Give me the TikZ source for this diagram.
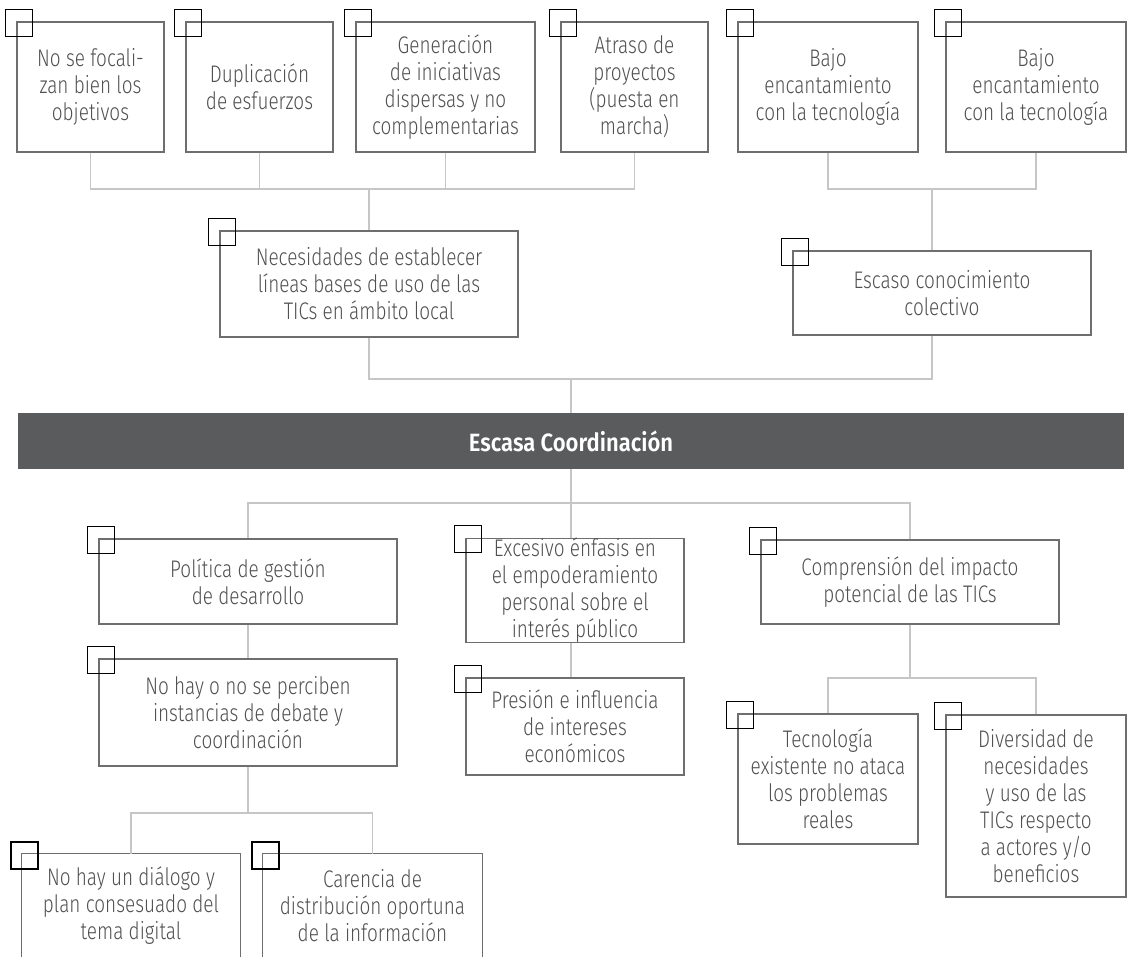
\documentclass[tikz,border=0pt]{standalone}
\usepackage{fontspec}
\setmainfont{Fira Sans Light}[FakeStretch=0.79,BoldFont={Fira Sans SemiBold},BoldFeatures={FakeStretch=0.88}]
\usetikzlibrary{positioning,calc}
\definecolor{boxline}{HTML}{6E6E6E}
\definecolor{boxtext}{HTML}{505050}
\definecolor{linkgray}{HTML}{C6C6C6}
\definecolor{bargray}{HTML}{5A5B5D}
\tikzset
{
    causenode/.style = {rectangle, draw=boxline, line width=1.2pt, text=boxtext, align=center, inner sep=0pt, font=\fontsize{24}{27}\selectfont},
    opennode/.style  = {rectangle, text=boxtext, align=center, inner sep=0pt, font=\fontsize{24}{27}\selectfont},
    boxsize/.style 2 args = {minimum width=#1pt, minimum height=#2pt},
    corebar/.style   = {rectangle, fill=bargray, text=white, inner sep=0pt, font=\bfseries\fontsize{25}{28}\selectfont, minimum width=1106pt, minimum height=56pt},
    tickbox/.style   = {draw=black, line width=1.5pt},
    openside/.style  = {draw=boxline, line width=1.2pt},
    link/.style      = {draw=linkgray, line width=1.5pt}
}

\begin{document}
\begin{tikzpicture}[x=1pt,y=-1pt]
\useasboundingbox (0,0) rectangle (1128,957);
\clip (0,0) rectangle (1128,957);

% effects
\node[causenode,boxsize={147}{130}] (nofocal) at (90.5,87) {No se focali-\\zan bien los\\objetivos};
\node[causenode,boxsize={147}{130}] (duplica) at (259.5,87) {Duplicación\\de esfuerzos};
\node[causenode,boxsize={179}{130}] (genera) at (445.5,87) {Generación\\de iniciativas\\dispersas y no\\complementarias};
\node[causenode,boxsize={147}{130}] (atraso) at (634.5,87) {Atraso de\\proyectos\\(puesta en\\marcha)};
\node[causenode,boxsize={180}{130}] (bajoa) at (828,87) {Bajo\\encantamiento\\con la tecnología};
\node[causenode,boxsize={180}{130}] (bajob) at (1036,87) {Bajo\\encantamiento\\con la tecnología};
\node[causenode,boxsize={298}{106}] (lineas) at (369,284) {Necesidades de establecer\\líneas bases de uso de las\\TICs en ámbito local};
\node[causenode,boxsize={298}{84}] (escaso) at (942,293) {Escaso conocimiento\\colectivo};

% core problem
\node[corebar] (core) at (571,441) {Escasa Coordinación};

% causes
\node[causenode,boxsize={298}{85}] (politica) at (248,581.5) {Política de gestión\\de desarrollo};
\node[causenode,boxsize={298}{107}] (debate) at (248,712.5) {No hay o no se perciben\\instancias de debate y\\coordinación};
\node[causenode,boxsize={218}{99}] (enfasis) at (575,590.5) {Excesivo énfasis en\\el empoderamiento\\personal sobre el\\interés público};
\node[causenode,boxsize={218}{97}] (presion) at (575,726.5) {Presión e influencia\\de intereses\\económicos};
\node[causenode,boxsize={298}{84}] (impacto) at (910,582) {Comprensión del impacto\\potencial de las TICs};
\node[causenode,boxsize={180}{130}] (tecno) at (828,779) {Tecnología\\existente no ataca\\los problemas\\reales};
\node[causenode,boxsize={180}{182}] (diversa) at (1036,806) {Diversidad de\\necesidades\\y uso de las\\TICs respecto\\a actores y/o\\beneficios};
\node[opennode,boxsize={218}{104}] (dialogo) at (131,906) {No hay un diálogo y\\plan consesuado del\\tema digital};
\node[opennode,boxsize={219}{104}] (carencia) at (372.5,906) {Carencia de\\distribución oportuna\\de la información};
\draw[openside] (dialogo.south west) -- (dialogo.north west) -- (dialogo.north east) -- (dialogo.south east);
\draw[openside] (carencia.south west) -- (carencia.north west) -- (carencia.north east) -- (carencia.south east);

% connectors
\coordinate (topbus) at (0,189);
\coordinate (midbus) at (0,379);
\coordinate (lowbus) at (0,503);
\coordinate (tecbus) at (0,678);
\coordinate (dialbus) at (0,813);
\coordinate (rtrunk) at ($(bajoa.south)!0.5!(bajob.south)$);
\draw[link] (nofocal.south) |- (atraso.south |- topbus) -- (atraso.south);
\foreach \n in {duplica,genera}
    \draw[link] (\n.south) -- (\n.south |- topbus);
\draw[link] (lineas.north) -- (lineas.north |- topbus);
\draw[link] (bajoa.south) |- (bajob.south |- topbus) -- (bajob.south);
\draw[link] (rtrunk |- topbus) -- (rtrunk |- escaso.north);
\draw[link] (lineas.south) |- (rtrunk |- midbus) -- (rtrunk |- escaso.south);
\draw[link] (core.north) -- (core.north |- midbus);
\draw[link] (politica.north) |- (impacto.north |- lowbus) -- (impacto.north);
\draw[link] (core.south) -- (core.south |- enfasis.north);
\draw[link] (enfasis.south -| core.south) -- (presion.north -| core.south);
\draw[link] (politica.south) -- (debate.north);
\draw[link] (debate.south) -- (debate.south |- dialbus);
\draw[link] (dialogo.north) |- (carencia.north |- dialbus) -- (carencia.north);
\draw[link] (impacto.south) -- (impacto.south |- tecbus);
\draw[link] (tecno.north) |- (diversa.north |- tecbus) -- (diversa.north);

% corner marks
\foreach \n in {nofocal,duplica,genera,atraso,bajoa,bajob,lineas,escaso,politica,debate,enfasis,presion,impacto,tecno,diversa,dialogo,carencia}
    \draw[tickbox] ([shift={(-11,-12)}]\n.north west) rectangle ++(27,27);
\end{tikzpicture}
\end{document}
